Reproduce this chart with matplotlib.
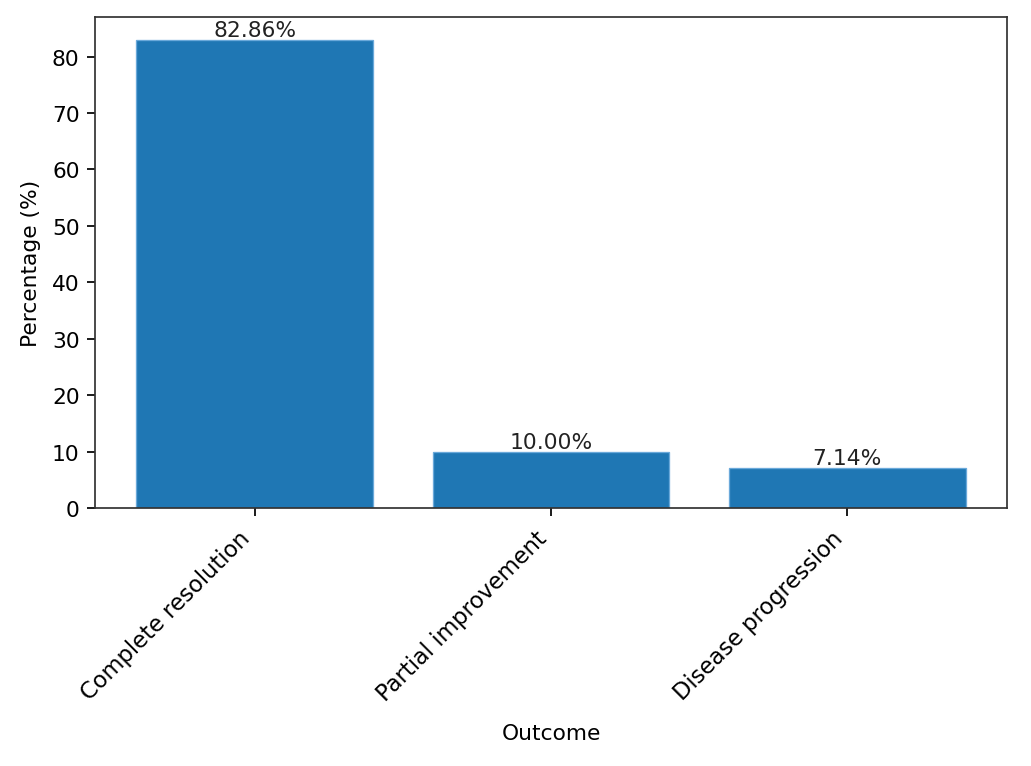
import matplotlib
matplotlib.use("Agg")
import matplotlib.pyplot as plt

# outcome data
outcomes = ["Complete resolution", "Partial improvement", "Disease progression"]
percentages = [82.86, 10.00, 7.14]

DPI = 157
fig = plt.figure(figsize=(1031 / DPI, 767 / DPI), dpi=DPI)
ax = fig.add_axes([95 / 1031, 1 - 509 / 767, 912 / 1031, 491 / 767])

bars = ax.bar(outcomes, percentages, color="#1f77b4", edgecolor="#6aa9da", linewidth=0.6)
for b, p in zip(bars, percentages):
    ax.text(b.get_x() + b.get_width() / 2, b.get_height(), f"{p:.2f}%",
            ha="center", va="bottom", color="#222222")

ax.set_xlabel("Outcome", labelpad=8)
ax.set_ylabel("Percentage (%)", labelpad=5)
ax.tick_params(axis="x", pad=5, labelsize=10.4)
plt.setp(ax.get_xticklabels(), rotation=45, ha="right")
for s in ax.spines.values():
    s.set_color("#333333")

fig.savefig("out.png", dpi=DPI)
